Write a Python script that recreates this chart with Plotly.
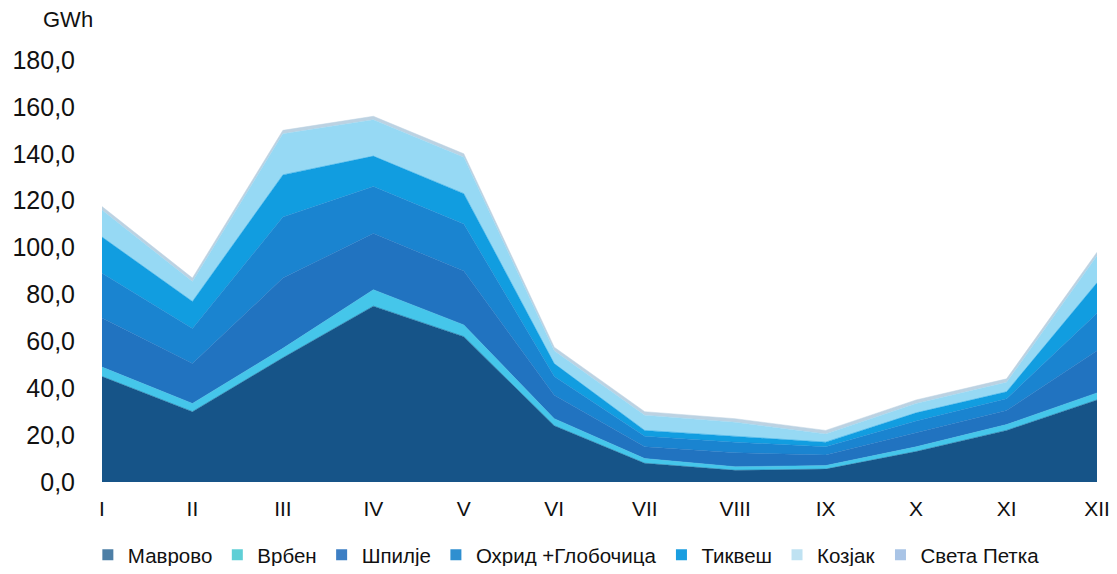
import plotly.graph_objects as go

months = ["I", "II", "III", "IV", "V", "VI", "VII", "VIII", "IX", "X", "XI", "XII"]

mavrovo = [45, 30, 53, 75, 62, 24, 8, 5, 5.5, 13, 22, 35]
vrben = [4, 3.5, 4, 7, 5, 3, 2, 1.5, 1.5, 2, 2.5, 3]
spilje = [21, 17, 30, 24, 23, 10, 5, 6, 4.5, 6, 6, 18]
ohrid = [19, 15, 26, 20, 20, 8, 4.5, 4.5, 3.5, 5, 5, 16]
tikves = [15.5, 11.5, 18, 13, 13, 5.5, 2.5, 2.5, 2, 3.5, 3, 13]
kozjak = [11.5, 8.5, 17.5, 15.5, 15.5, 5.5, 6.5, 6, 3.5, 4, 4, 11.5]
sveta_petka = [1.5, 1.5, 1.5, 1.5, 1.5, 1.5, 1.5, 1.5, 1.5, 1.5, 1.5, 1.5]

y_ticks = [0, 20, 40, 60, 80, 100, 120, 140, 160, 180]

series = [
    ("Маврово", mavrovo, "#165488", "#4d7fa6"),
    ("Врбен", vrben, "#45c6ea", "#5fcfd6"),
    ("Шпилје", spilje, "#2173c0", "#3d7fc4"),
    ("Охрид +Глобочица", ohrid, "#1a84d0", "#2f8fd0"),
    ("Тиквеш", tikves, "#119de0", "#1a9ee0"),
    ("Козјак", kozjak, "#96d9f4", "#bfe2f2"),
    ("Света Петка", sveta_petka, "#bcd2e2", "#a9c4e6"),
]

x = list(range(len(months)))
fig = go.Figure()
for name, vals, col, lcol in series:
    fig.add_trace(go.Scatter(
        x=x, y=vals, name=name, mode="lines", stackgroup="one",
        line=dict(width=0.5, color=col), fillcolor=col, showlegend=False,
        hoverinfo="skip",
    ))
for name, vals, col, lcol in series:
    fig.add_trace(go.Scatter(
        x=[None], y=[None], name=name, mode="markers",
        marker=dict(symbol="square", size=11, color=lcol), showlegend=True,
    ))

fig.update_layout(
    width=1109, height=558,
    margin=dict(l=94, r=20, t=52, b=84, autoexpand=False),
    paper_bgcolor="white", plot_bgcolor="white",
    separators=", ",
    font=dict(family="Liberation Sans, Arial, sans-serif", color="#111111"),
    showlegend=True,
    legend=dict(
        orientation="h", traceorder="normal",
        xref="container", yref="container",
        x=0.072, xanchor="left", y=0.02, yanchor="middle",
        font=dict(size=20.5), itemwidth=30, tracegroupgap=0,
        bgcolor="rgba(0,0,0,0)",
    ),
    xaxis=dict(
        range=[0, 11], tickmode="array", tickvals=x, ticktext=months,
        showgrid=False, zeroline=False, showline=False, ticks="",
        tickfont=dict(size=21), ticklabelstandoff=12, automargin=False,
        ticklabeloverflow="allow",
    ),
    yaxis=dict(
        range=[0, 180], tickmode="array", tickvals=y_ticks,
        tickformat=".1f", showgrid=False, zeroline=False, showline=False,
        ticks="", tickfont=dict(size=25), ticklabelstandoff=26,
        automargin=False,
    ),
    annotations=[dict(
        text="GWh", xref="paper", yref="paper", x=-0.034, y=1.095,
        xanchor="center", yanchor="middle", showarrow=False,
        font=dict(size=22),
    )],
)

fig.write_html("out.html")
